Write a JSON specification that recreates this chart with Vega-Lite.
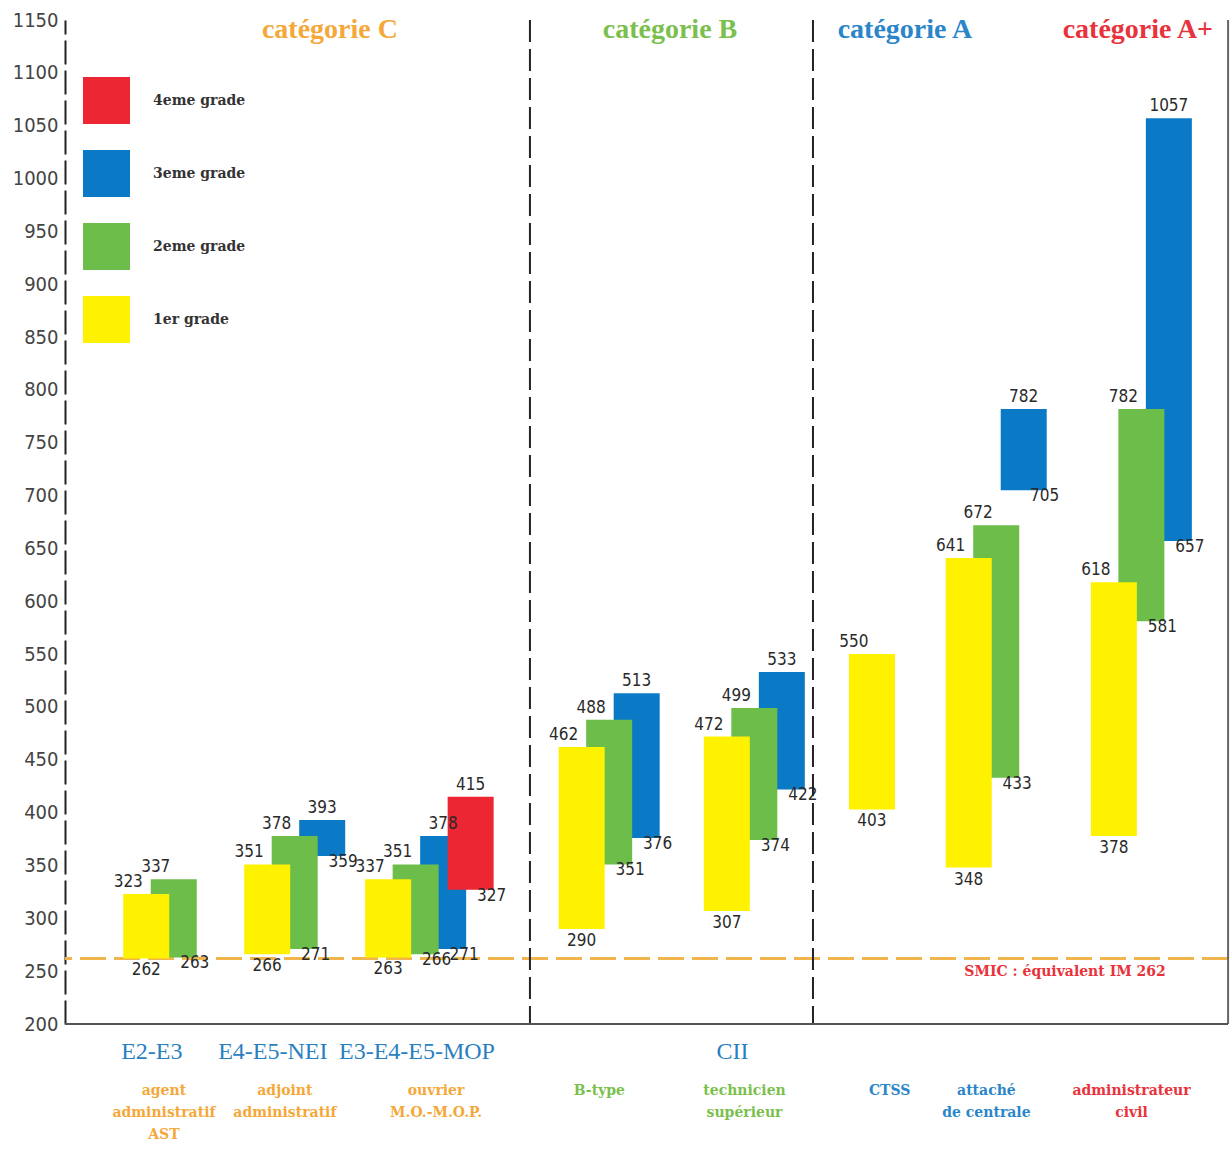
{
  "$schema": "https://vega.github.io/schema/vega-lite/v6.json",
  "width": 1163,
  "height": 1004,
  "autosize": {"type": "none"},
  "padding": {"left": 65, "top": 20, "right": 3, "bottom": 127},
  "background": "white",
  "config": {"view": {"stroke": null}},
  "resolve": {"scale": {"color": "independent"}, "legend": {"color": "independent"}},
  "datasets": {
    "bars": [
      {"group": "adjoint", "grade": "3eme grade", "lo": 359, "hi": 393},
      {"group": "ouvrier", "grade": "3eme grade", "lo": 271, "hi": 378},
      {"group": "Btype", "grade": "3eme grade", "lo": 376, "hi": 513},
      {"group": "CII", "grade": "3eme grade", "lo": 422, "hi": 533},
      {"group": "attache", "grade": "3eme grade", "lo": 705, "hi": 782},
      {"group": "admin", "grade": "3eme grade", "lo": 657, "hi": 1057},
      {"group": "ouvrier", "grade": "4eme grade", "lo": 327, "hi": 415},
      {"group": "AST", "grade": "2eme grade", "lo": 263, "hi": 337},
      {"group": "adjoint", "grade": "2eme grade", "lo": 271, "hi": 378},
      {"group": "ouvrier", "grade": "2eme grade", "lo": 266, "hi": 351},
      {"group": "Btype", "grade": "2eme grade", "lo": 351, "hi": 488},
      {"group": "CII", "grade": "2eme grade", "lo": 374, "hi": 499},
      {"group": "attache", "grade": "2eme grade", "lo": 433, "hi": 672},
      {"group": "admin", "grade": "2eme grade", "lo": 581, "hi": 782},
      {"group": "AST", "grade": "1er grade", "lo": 262, "hi": 323},
      {"group": "adjoint", "grade": "1er grade", "lo": 266, "hi": 351},
      {"group": "ouvrier", "grade": "1er grade", "lo": 263, "hi": 337},
      {"group": "Btype", "grade": "1er grade", "lo": 290, "hi": 462},
      {"group": "CII", "grade": "1er grade", "lo": 307, "hi": 472},
      {"group": "CTSS", "grade": "1er grade", "lo": 403, "hi": 550},
      {"group": "attache", "grade": "1er grade", "lo": 348, "hi": 641},
      {"group": "admin", "grade": "1er grade", "lo": 378, "hi": 618}
    ],
    "groups": [
      {"group": "AST", "code": "E2-E3", "desc": "agent\nadministratif\nAST", "cat": "C"},
      {"group": "adjoint", "code": "E4-E5-NEI", "desc": "adjoint\nadministratif", "cat": "C"},
      {"group": "ouvrier", "code": "E3-E4-E5-MOP", "desc": "ouvrier\nM.O.-M.O.P.", "cat": "C"},
      {"group": "Btype", "code": "", "desc": "B-type", "cat": "B"},
      {"group": "CII", "code": "CII", "desc": "technicien\nsupérieur", "cat": "B"},
      {"group": "CTSS", "code": "", "desc": "CTSS", "cat": "A"},
      {"group": "attache", "code": "", "desc": "attaché\nde centrale", "cat": "A"},
      {"group": "admin", "code": "", "desc": "administrateur\ncivil", "cat": "A+"}
    ]
  },
  "layer": [
    {
      "data": {"name": "bars"},
      "mark": {"type": "rule", "color": "#f0b54c", "strokeWidth": 2, "strokeDash": [26, 8]},
      "encoding": {
        "y": {"datum": 262, "type": "quantitative", "scale": {"domain": [200, 1150], "nice": false, "zero": false}}
      }
    },
    {
      "data": {"name": "bars"},
      "mark": {"type": "bar", "width": 46},
      "encoding": {
        "x": {"field": "group", "type": "nominal",
          "scale": {"domain": ["AST", "g1", "g2", "g3", "g4", "adjoint", "g6", "g7", "g8", "g9", "ouvrier", "g11", "g12", "g13", "g14", "g15", "g16", "g17", "Btype", "g19", "g20", "g21", "g22", "g23", "CII", "g25", "g26", "g27", "g28", "g29", "CTSS", "g31", "g32", "g33", "attache", "g35", "g36", "g37", "g38", "g39", "admin"], "range": [67.5, 1059.3], "paddingInner": 0, "paddingOuter": 0, "round": false},
          "axis": null},
        "xOffset": {"field": "grade", "type": "nominal", "scale": {"domain": ["1er grade", "2eme grade", "3eme grade", "4eme grade"], "range": [0, 110], "paddingInner": 0, "paddingOuter": 0}},
        "y": {"field": "lo", "type": "quantitative",
          "scale": {"domain": [200, 1150], "nice": false, "zero": false},
          "axis": {"title": null, "format": "d", "values": [200, 250, 300, 350, 400, 450, 500, 550, 600, 650, 700, 750, 800, 850, 900, 950, 1000, 1050, 1100, 1150], "ticks": false, "grid": false, "domainDash": [24, 6], "domainColor": "#222", "domainWidth": 2, "labelFont": "DejaVu Sans Condensed", "labelFontSize": 20, "labelColor": "#444", "labelPadding": 7}},
        "y2": {"field": "hi"},
        "color": {"field": "grade", "type": "nominal",
          "scale": {"domain": ["4eme grade", "3eme grade", "2eme grade", "1er grade"], "range": ["#ec2632", "#0a7ac6", "#6cbd4a", "#fff200"]},
          "legend": {"title": null, "orient": "none", "legendX": 18, "legendY": 57, "symbolType": "square", "symbolSize": 2209, "symbolStrokeWidth": 0, "symbolOpacity": 1, "labelFont": "DejaVu Serif", "labelFontWeight": "bold", "labelFontSize": 14, "labelColor": "#333", "labelOffset": 23, "rowPadding": 26, "padding": 0, "labelLimit": 300}}
      }
    },
    {
      "data": {"name": "bars"},
      "transform": [{"filter": "datum.grade == '1er grade' || datum.grade == '2eme grade'"}],
      "mark": {"type": "text", "font": "DejaVu Sans Condensed", "fontSize": 17, "color": "#2a2a2a", "baseline": "bottom", "dx": -18, "dy": -3},
      "encoding": {
        "x": {"field": "group", "type": "nominal"},
        "xOffset": {"field": "grade", "type": "nominal"},
        "y": {"field": "hi", "type": "quantitative"},
        "text": {"field": "hi", "type": "quantitative"}
      }
    },
    {
      "data": {"name": "bars"},
      "transform": [{"filter": "datum.grade == '3eme grade' || datum.grade == '4eme grade'"}],
      "mark": {"type": "text", "font": "DejaVu Sans Condensed", "fontSize": 17, "color": "#2a2a2a", "baseline": "bottom", "dy": -3},
      "encoding": {
        "x": {"field": "group", "type": "nominal"},
        "xOffset": {"field": "grade", "type": "nominal"},
        "y": {"field": "hi", "type": "quantitative"},
        "text": {"field": "hi", "type": "quantitative"}
      }
    },
    {
      "data": {"name": "bars"},
      "transform": [{"filter": "datum.grade == '1er grade'"}],
      "mark": {"type": "text", "font": "DejaVu Sans Condensed", "fontSize": 17, "color": "#2a2a2a", "baseline": "top", "dy": 4},
      "encoding": {
        "x": {"field": "group", "type": "nominal"},
        "xOffset": {"field": "grade", "type": "nominal"},
        "y": {"field": "lo", "type": "quantitative"},
        "text": {"field": "lo", "type": "quantitative"}
      }
    },
    {
      "data": {"name": "bars"},
      "transform": [{"filter": "datum.grade != '1er grade'"}],
      "mark": {"type": "text", "font": "DejaVu Sans Condensed", "fontSize": 17, "color": "#2a2a2a", "baseline": "middle", "dx": 21, "dy": 6},
      "encoding": {
        "x": {"field": "group", "type": "nominal"},
        "xOffset": {"field": "grade", "type": "nominal"},
        "y": {"field": "lo", "type": "quantitative"},
        "text": {"field": "lo", "type": "quantitative"}
      }
    },
    {
      "data": {"name": "groups"},
      "transform": [{"filter": "datum.group != 'ouvrier'"}],
      "mark": {"type": "text", "font": "DejaVu Serif", "fontSize": 14, "fontWeight": "bold", "baseline": "top", "lineBreak": "\n", "lineHeight": 22},
      "encoding": {
        "x": {"field": "group", "type": "nominal", "bandPosition": 1.3},
        "y": {"datum": 143, "type": "quantitative"},
        "text": {"field": "desc", "type": "nominal"},
        "color": {"field": "cat", "type": "nominal", "scale": {"domain": ["C", "B", "A", "A+"], "range": ["#f5a83a", "#7bbf4e", "#2a86c8", "#e8333c"]}, "legend": null}
      }
    },
    {
      "data": {"name": "groups"},
      "transform": [{"filter": "datum.group == 'ouvrier'"}],
      "mark": {"type": "text", "font": "DejaVu Serif", "fontSize": 14, "fontWeight": "bold", "baseline": "top", "lineBreak": "\n", "lineHeight": 22},
      "encoding": {
        "x": {"field": "group", "type": "nominal", "bandPosition": 2.55},
        "y": {"datum": 143, "type": "quantitative"},
        "text": {"field": "desc", "type": "nominal"},
        "color": {"field": "cat", "type": "nominal", "scale": {"domain": ["C", "B", "A", "A+"], "range": ["#f5a83a", "#7bbf4e", "#2a86c8", "#e8333c"]}, "legend": null}
      }
    },
    {
      "data": {"name": "groups"},
      "transform": [{"filter": "datum.code != '' && datum.group != 'ouvrier'"}],
      "mark": {"type": "text", "font": "Liberation Serif", "fontSize": 24, "color": "#2a7fc1", "baseline": "middle"},
      "encoding": {
        "x": {"field": "group", "type": "nominal", "bandPosition": 0.8},
        "y": {"datum": 173.5, "type": "quantitative"},
        "text": {"field": "code", "type": "nominal"}
      }
    },
    {
      "data": {"name": "groups"},
      "transform": [{"filter": "datum.group == 'ouvrier'"}],
      "mark": {"type": "text", "font": "Liberation Serif", "fontSize": 24, "color": "#2a7fc1", "baseline": "middle"},
      "encoding": {
        "x": {"field": "group", "type": "nominal", "bandPosition": 1.76},
        "y": {"datum": 173.5, "type": "quantitative"},
        "text": {"field": "code", "type": "nominal"}
      }
    },
    {
      "data": {"values": [{"label": "catégorie C"}]},
      "mark": {"type": "text", "font": "Liberation Serif", "fontSize": 28, "fontWeight": "bold", "color": "#f5a83a", "baseline": "middle"},
      "encoding": {
        "x": {"datum": "adjoint", "type": "nominal", "bandPosition": 3.16},
        "y": {"datum": 1140.5, "type": "quantitative"},
        "text": {"field": "label", "type": "nominal"}
      }
    },
    {
      "data": {"values": [{"label": "catégorie B"}]},
      "mark": {"type": "text", "font": "Liberation Serif", "fontSize": 28, "fontWeight": "bold", "color": "#7bbf4e", "baseline": "middle"},
      "encoding": {
        "x": {"datum": "Btype", "type": "nominal", "bandPosition": 4.22},
        "y": {"datum": 1140.5, "type": "quantitative"},
        "text": {"field": "label", "type": "nominal"}
      }
    },
    {
      "data": {"values": [{"label": "catégorie A"}]},
      "mark": {"type": "text", "font": "Liberation Serif", "fontSize": 28, "fontWeight": "bold", "color": "#2a86c8", "baseline": "middle"},
      "encoding": {
        "x": {"datum": "CTSS", "type": "nominal", "bandPosition": 1.93},
        "y": {"datum": 1140.5, "type": "quantitative"},
        "text": {"field": "label", "type": "nominal"}
      }
    },
    {
      "data": {"values": [{"label": "catégorie A+"}]},
      "mark": {"type": "text", "font": "Liberation Serif", "fontSize": 28, "fontWeight": "bold", "color": "#e8333c", "baseline": "middle"},
      "encoding": {
        "x": {"datum": "admin", "type": "nominal", "bandPosition": 1.56},
        "y": {"datum": 1140.5, "type": "quantitative"},
        "text": {"field": "label", "type": "nominal"}
      }
    },
    {
      "data": {"values": [{"label": "SMIC : équivalent IM 262"}]},
      "mark": {"type": "text", "font": "DejaVu Serif", "fontSize": 14, "fontWeight": "bold", "color": "#e8333c", "baseline": "middle"},
      "encoding": {
        "x": {"datum": "attache", "type": "nominal", "bandPosition": 4.55},
        "y": {"datum": 249.2, "type": "quantitative"},
        "text": {"field": "label", "type": "nominal"}
      }
    },
    {
      "data": {"values": [{}]},
      "mark": {"type": "rule", "color": "#222", "strokeWidth": 2, "strokeDash": [22, 7]},
      "encoding": {
        "x": {"datum": "Btype", "type": "nominal", "bandPosition": -1.57}
      }
    },
    {
      "data": {"values": [{}]},
      "mark": {"type": "rule", "color": "#222", "strokeWidth": 2, "strokeDash": [22, 7]},
      "encoding": {
        "x": {"datum": "CTSS", "type": "nominal", "bandPosition": -1.87}
      }
    },
    {
      "data": {"values": [{}]},
      "mark": {"type": "rule", "color": "#666", "strokeWidth": 2},
      "encoding": {
        "x": {"datum": "admin", "type": "nominal", "bandPosition": 5.29}
      }
    },
    {
      "data": {"values": [{}]},
      "mark": {"type": "rule", "color": "#555", "strokeWidth": 2},
      "encoding": {
        "y": {"datum": 200, "type": "quantitative"}
      }
    }
  ]
}
